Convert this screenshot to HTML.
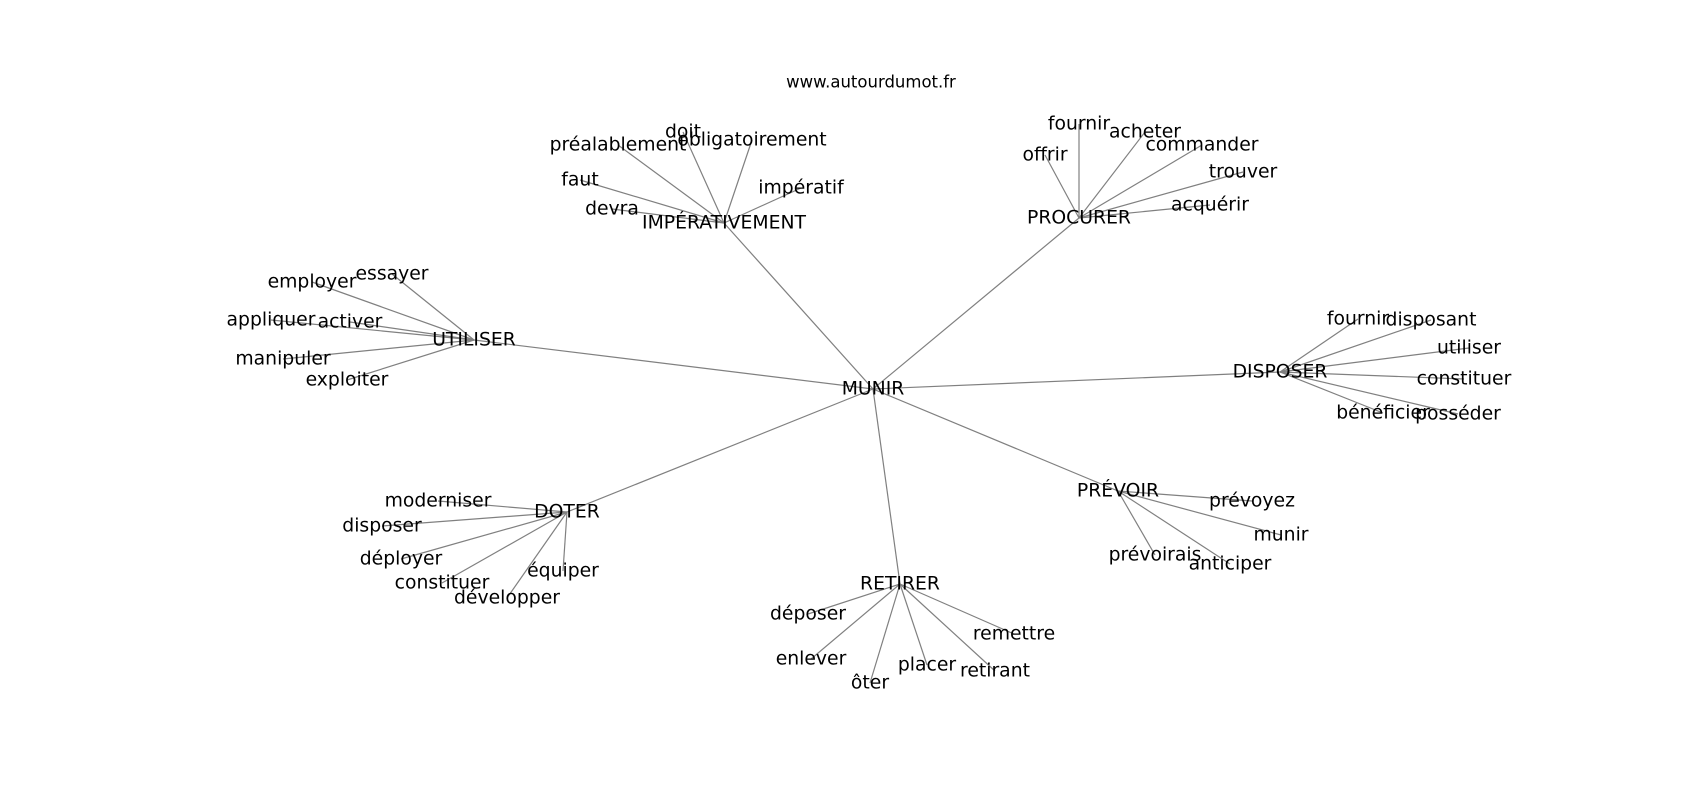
<!DOCTYPE html>
<html><head><meta charset="utf-8"><style>
html,body{margin:0;padding:0;background:#fff;width:1700px;height:800px;overflow:hidden}
svg text{font-family:"DejaVu Sans","Liberation Sans",sans-serif;font-size:18.8px;fill:#000;text-anchor:middle;dominant-baseline:central}
line{stroke:#808080;stroke-width:1.2}
</style></head><body>
<svg width="1700" height="800" xmlns="http://www.w3.org/2000/svg">
<g id="e"></g>
<text x="871" y="82" style="font-size:16.5px">www.autourdumot.fr</text>
<g id="t"></g>
<script>
const N={MUNIR:[873,389],"IMPÉRATIVEMENT":[724,223],PROCURER:[1079,218],UTILISER:[474,340],DISPOSER:[1280,372],"PRÉVOIR":[1118,491],DOTER:[567,512],RETIRER:[900,584]};
const C={"IMPÉRATIVEMENT":[["préalablement",618,145],["doit",683,132],["obligatoirement",752,140],["faut",580,180],["devra",612,209],["impératif",801,188]],
PROCURER:[["fournir",1079,124],["offrir",1045,155],["acheter",1145,132],["commander",1202,145],["trouver",1243,172],["acquérir",1210,205]],
UTILISER:[["essayer",392,274],["employer",312,282],["appliquer",271,320],["activer",350,322],["manipuler",283,359],["exploiter",347,380]],
DISPOSER:[["fournir",1358,319],["disposant",1431,320],["utiliser",1469,348],["constituer",1464,379],["bénéficier",1383,413],["posséder",1458,414]],
"PRÉVOIR":[["prévoyez",1252,501],["munir",1281,535],["prévoirais",1155,555],["anticiper",1230,564]],
DOTER:[["moderniser",438,501],["disposer",382,526],["déployer",401,559],["constituer",442,583],["développer",507,598],["équiper",563,571]],
RETIRER:[["déposer",808,614],["enlever",811,659],["ôter",870,683],["placer",927,665],["retirant",995,671],["remettre",1014,634]]};
const ns="http://www.w3.org/2000/svg",E=document.getElementById("e"),T=document.getElementById("t");
function L(a,b){const l=document.createElementNS(ns,"line");l.setAttribute("x1",a[0]);l.setAttribute("y1",a[1]);l.setAttribute("x2",b[0]);l.setAttribute("y2",b[1]);E.appendChild(l);}
function X(s,x,y){const t=document.createElementNS(ns,"text");t.setAttribute("x",x);t.setAttribute("y",y);t.textContent=s;T.appendChild(t);}
for(const k in N){if(k!="MUNIR")L(N.MUNIR,N[k]);}
for(const k in C){for(const c of C[k]){L(N[k],[c[1],c[2]]);X(c[0],c[1],c[2]);}}
for(const k in N)X(k,N[k][0],N[k][1]);
</script>
</svg>
</body></html>
